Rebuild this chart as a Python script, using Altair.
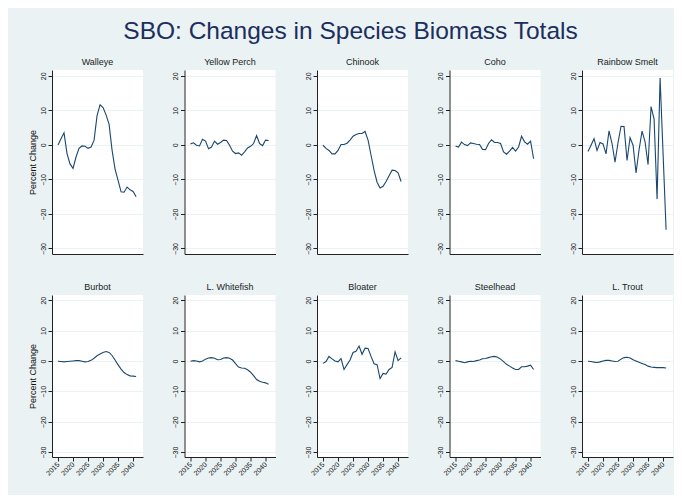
import altair as alt
import pandas as pd

years = list(range(2015, 2042))
species = ["Walleye", "Yellow Perch", "Chinook", "Coho", "Rainbow Smelt",
           "Burbot", "L. Whitefish", "Bloater", "Steelhead", "L. Trout"]

walleye = [0, 1.8, 3.5, -2.5, -5.5, -6.8, -3.5, -1.0, -0.3, -0.4, -1.0, -0.6, 1.3, 8.5,
           11.6, 10.8, 8.7, 6.0, -1.5, -7.0, -10.3, -13.6, -13.7, -12.2, -13.0, -13.5, -15.0]
yellow_perch = [0.3, 0.6, -0.1, -0.3, 1.6, 1.1, -1.1, -0.6, 1.1, 0.2, 0.7, 1.4, 1.3, -0.1,
                -1.8, -2.5, -2.3, -3.0, -2.0, -0.9, -0.4, 0.4, 2.7, 0.4, -0.2, 1.4, 1.3]
chinook = [-0.1, -1.0, -1.6, -2.6, -2.6, -1.6, 0.1, 0.1, 0.5, 1.4, 2.5, 3.0, 3.3, 3.3,
           3.9, 1.4, -3.0, -7.4, -10.8, -12.5, -12.0, -10.6, -8.9, -7.3, -7.4, -8.1, -10.6]
coho = [-0.3, -0.6, 0.8, 0.1, -0.2, 0.6, 0.4, 0.2, 0.1, -1.3, -1.4, 0.4, 1.5, 0.7,
        0.7, 0.4, -2.0, -2.7, -1.8, -0.7, -1.8, -0.6, 2.5, 0.9, 0.2, 1.1, -4.0]
rainbow_smelt = [-1.9, -0.1, 1.8, -1.6, 0.7, 0.3, -2.6, 4.1, 0.4, -5.0, 0.7, 5.4, 5.3, -4.5,
                 2.1, -0.1, -8.1, -1.4, 4.0, 0.9, -5.7, 11.1, 7.5, -15.7, 19.4, -2.6, -24.6]
burbot = [-0.1, -0.2, -0.3, -0.2, -0.1, 0.0, 0.1, 0.1, -0.1, -0.3, -0.2, 0.2, 0.9, 1.7,
          2.3, 2.8, 3.1, 2.8, 1.8, 0.3, -1.3, -2.7, -3.8, -4.5, -4.9, -5.0, -5.1]
whitefish = [-0.1, 0.1, 0.0, -0.3, 0.0, 0.6, 1.0, 1.1, 0.9, 0.4, 0.5, 1.0, 1.1, 0.9,
             0.3, -0.9, -2.0, -2.3, -2.4, -2.9, -3.7, -4.8, -6.1, -6.7, -7.0, -7.2, -7.7]
bloater = [-0.8, -0.2, 1.5, 0.7, 0.0, -0.3, 0.8, -2.8, -1.2, 0.3, 2.8, 3.2, 4.9, 2.2,
           4.2, 4.1, 1.5, -0.9, -1.2, -5.8, -4.1, -4.3, -2.8, -2.1, 3.0, 0.1, 1.0]
steelhead = [0.1, -0.1, -0.3, -0.6, -0.3, -0.1, -0.2, 0.1, 0.3, 0.7, 0.8, 1.1, 1.4, 1.5,
             1.2, 0.6, -0.2, -1.1, -1.7, -2.3, -2.8, -2.8, -1.9, -1.9, -1.7, -1.4, -2.8]
lake_trout = [-0.1, -0.2, -0.4, -0.5, -0.3, 0.0, 0.2, 0.2, 0.0, -0.2, -0.1, 0.6, 1.1, 1.2,
              1.0, 0.4, 0.0, -0.4, -0.8, -1.2, -1.7, -2.0, -2.1, -2.2, -2.2, -2.2, -2.3]

series = [walleye, yellow_perch, chinook, coho, rainbow_smelt,
          burbot, whitefish, bloater, steelhead, lake_trout]

x_ticks = [2015, 2020, 2025, 2030, 2035, 2040]
y_ticks = [-30, -20, -10, 0, 10, 20]

FONT = "Liberation Sans"
BG = "#EAF2F3"
LINE = "#1A476F"


def panel(name, vals, idx):
    row, col = divmod(idx, 5)
    df = pd.DataFrame({"year": years, "pct": vals})
    xkw = dict(values=x_ticks, grid=False, domainColor="#222222", domainWidth=1)
    if row == 1:
        xkw.update(labelAngle=315, labelAlign="right", labelBaseline="middle",
                   labelFontSize=7, labelFont=FONT, labelColor="#111111",
                   labelOverlap=False, labelFlush=False, format="d",
                   tickSize=4, tickColor="#222222", labelPadding=2, title="")
    else:
        xkw.update(labels=False, ticks=False, title="")
    ykw = dict(values=y_ticks, grid=True, gridColor=BG, gridWidth=1,
               labelAngle=270, labelAlign="center", labelBaseline="bottom",
               labelFontSize=7, labelFont=FONT, labelColor="#111111",
               labelOverlap=False, labelFlush=False,
               tickSize=4, tickColor="#222222", domainColor="#222222",
               labelPadding=2)
    if col == 0:
        ykw.update(title="Percent Change", titleFontSize=9, titleFont=FONT,
                   titleFontWeight="normal", titleColor="#111111", titlePadding=2)
    else:
        ykw.update(title="")
    h = 184 if row == 0 else 162
    return alt.Chart(df).mark_line(color=LINE, strokeWidth=1.1).encode(
        x=alt.X("year:Q", scale=alt.Scale(domain=[2013, 2043.3], nice=False, zero=False),
                axis=alt.Axis(**xkw)),
        y=alt.Y("pct:Q", scale=alt.Scale(domain=[-31.6, 21.7], nice=False),
                axis=alt.Axis(**ykw)),
    ).properties(
        width=91, height=h,
        title=alt.TitleParams(name, fontSize=9, font=FONT, fontWeight="normal",
                              color="#222222", offset=3, anchor="middle"),
    )


charts = [panel(n, v, i) for i, (n, v) in enumerate(zip(species, series))]

chart = alt.concat(
    *charts, columns=5, spacing={"row": 41, "column": 41.5}, bounds="flush"
).properties(
    title=alt.TitleParams("SBO: Changes in Species Biomass Totals", fontSize=24.5,
                          font=FONT, fontWeight="normal", color="#1C2E5E",
                          anchor="middle", offset=14),
    background=BG,
    padding={"left": 19, "right": 1, "top": 10, "bottom": 18},
).configure_view(stroke=None, fill="white")

chart.save("out.html", embed_options={"renderer": "svg", "actions": False})
